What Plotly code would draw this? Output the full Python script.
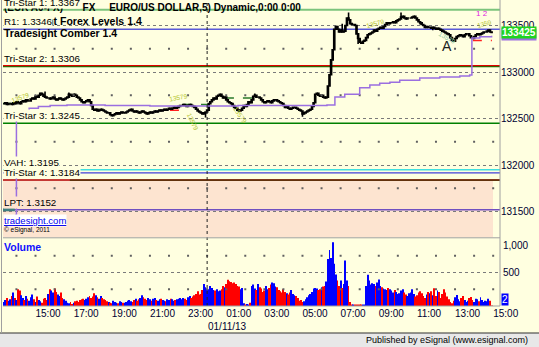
import pandas as pd
import plotly.graph_objects as go

W, H = 539, 347

# ---------------- data ----------------
bar_start = "2013-01-10 13:20"          # 5-minute bars
close_pips = [                           # close = 1.3 + pips/10000
    266, 267, 265, 266,
    266, 265, 267, 266, 268, 267, 266, 268, 269, 268, 270, 269,
    269, 271, 272, 271, 274, 273, 275, 277, 276, 274, 273, 272,
    272, 271, 272, 273, 271, 270, 271, 272, 271, 270, 271, 272,
    273, 276, 275, 274, 276, 275, 273, 272, 270, 268, 267, 268,
    269, 270, 268, 264, 260, 259, 260, 258, 259, 260, 259, 258,
    257, 256, 256, 254, 253, 254, 255, 256, 255, 256, 257, 256,
    256, 257, 258, 259, 260, 258, 257, 258, 257, 256, 257, 258,
    257, 256, 255, 256, 257, 256, 257, 258, 257, 258, 259, 258,
    259, 260, 259, 260, 261, 260, 261, 262, 261, 262, 263, 264,
    264, 265, 264, 263, 264, 265, 264, 263, 262, 260, 258, 257,
    256, 255, 256, 257, 259, 266, 268, 270, 272, 271, 274, 275,
    276, 274, 272, 273, 270, 268, 267, 266, 264, 262, 261, 259,
    258, 259, 261, 264, 263, 265, 268, 267, 270, 274, 275, 273,
    273, 272, 270, 268, 267, 268, 269, 268, 267, 269, 270, 270,
    269, 268, 267, 266, 264, 262, 263, 261, 260, 261, 262, 262,
    261, 260, 259, 258, 255, 256, 257, 258, 259, 260, 263, 267,
    276, 277, 275, 274, 275, 273, 272, 273, 285, 297, 313, 324,
    346, 349, 346, 343, 345, 343, 344, 350, 358, 356, 352, 351,
    351, 350, 341, 336, 332, 331, 333, 334, 337, 340, 341, 342,
    343, 345, 344, 346, 347, 348, 347, 349, 351, 353, 352, 353,
    353, 354, 353, 355, 356, 357, 359, 360, 358, 357, 358, 358,
    358, 359, 360, 358, 356, 354, 353, 351, 350, 348, 349, 348,
    348, 347, 348, 347, 346, 347, 346, 345, 344, 343, 342, 341,
    340, 337, 334, 333, 336, 338, 339, 340, 339, 338, 340, 341,
    341, 339, 337, 336, 338, 340, 341, 340, 341, 342, 343, 343,
    344, 345, 343, 342.5,
]
first_open_pips = 266
wick_high_pips = {217: 364, 250: 364, 158: 277, 26: 279, 41: 278, 213: 352}
wick_low_pips = {188: 252, 127: 251, 223: 330, 270: 345, 262: 351}

volume = [
    60, 90, 120, 80,
    100, 150, 200, 120, 90, 250, 230, 160, 120, 90, 150, 110,
    80, 130, 170, 100, 60, 140, 90, 70, 50, 110, 120, 90,
    180, 250, 230, 200, 260, 210, 170, 150, 200, 120, 100, 80,
    50, 40, 60, 30, 50, 70, 80, 60, 90, 100, 110, 90,
    110, 130, 150, 120, 140, 190, 160, 130, 110, 150, 120, 100,
    90, 70, 60, 50, 40, 80, 60, 50, 40, 70, 60, 50,
    50, 60, 80, 90, 70, 60, 90, 110, 80, 100, 120, 160,
    130, 110, 90, 120, 100, 80, 110, 120, 90, 80, 100, 110,
    90, 80, 70, 100, 90, 110, 100, 80, 90, 100, 110, 120,
    100, 120, 110, 90, 130, 150, 120, 140, 160, 180, 220, 170,
    180, 240, 330, 280, 260, 250, 300, 270, 240, 230, 250, 220,
    230, 250, 300, 280, 330, 390, 370, 360, 340, 350, 330, 300,
    290, 250, 270, 40, 20, 30, 20, 50, 300, 320, 260, 240,
    330, 280, 260, 210, 230, 300, 250, 270, 320, 350, 340, 290,
    280, 240, 220, 200, 250, 210, 190, 170, 200, 240, 180, 160,
    150, 120, 80, 90, 60, 70, 100, 130, 160, 180, 210, 260,
    270, 260, 240, 250, 280, 290, 300, 365, 700, 835, 715, 950,
    630, 470, 380, 300, 380, 270, 330, 680, 380, 300, 60, 20,
    15, 10, 15, 10, 20, 15, 10, 20, 300, 465, 380, 320,
    340, 330, 300, 350, 395, 300, 280, 260, 250, 240, 270, 250,
    230, 200, 240, 210, 180, 190, 230, 250, 200, 170, 150, 190,
    200, 250, 180, 140, 160, 200, 220, 190, 150, 120, 170, 210,
    190, 220, 160, 265, 150, 230, 210, 120, 180, 250, 200, 140,
    100, 60, 40, 80, 130, 165, 100, 70, 120, 150, 90, 60,
    80, 120, 135, 90, 60, 110, 100, 70, 130, 90, 60, 80,
    70, 110, 80, 2,
]

purple_times = ["2013-01-10 13:55", "2013-01-10 14:00", "2013-01-10 14:11", "2013-01-10 14:40",
                "2013-01-10 15:09", "2013-01-10 15:46", "2013-01-10 16:39", "2013-01-10 18:01",
                "2013-01-10 18:39", "2013-01-10 21:00", "2013-01-10 23:37", "2013-01-11 01:37",
                "2013-01-11 03:49", "2013-01-11 06:17", "2013-01-11 06:42", "2013-01-11 07:13",
                "2013-01-11 08:00", "2013-01-11 08:32", "2013-01-11 09:03", "2013-01-11 09:35",
                "2013-01-11 10:06", "2013-01-11 11:09", "2013-01-11 12:12", "2013-01-11 13:15",
                "2013-01-11 13:46", "2013-01-11 13:53", "2013-01-11 14:18", "2013-01-11 14:55"]
purple_pips = [146, 257, 258, 261, 263, 264, 264.5, 264.5, 264, 263.5, 263.5, 264, 264, 264.5,
               273, 276, 283, 286, 288, 289, 291, 293.5, 294.6, 295.7, 296.8, 336.6, 338, 339]

level_names = ["Tri-Star 1", "R1", "Tri-Star 2", "Tri-Star 3", "VAH", "Tri-Star 4", "LPT"]
level_prices = [1.3367, 1.3346, 1.3306, 1.3245, 1.3195, 1.3184, 1.3152]
level_colors = ["#7cc47c", "#5a5ad8", "#008000", "#008000", "#3fe0e0", "#b00000", "#7050c0"]
extra_lines = [  # (price, colour, start, end)
    (1.33068, "#e00000", None, None),
    (1.31915, "#4040d8", None, None),
    (1.31838, "#403000", "2013-01-10 16:48", None),
    (1.3152, "#3f7f80", None, "2013-01-10 13:55"),
]
dash_segments = [  # (start, end, price, colour)
    ("2013-01-10 13:15", "2013-01-10 13:49", 1.3266, "#2a7a2a"),
    ("2013-01-10 22:03", "2013-01-10 22:59", 1.3259, "#ff2020"),
    ("2013-01-10 22:44", "2013-01-11 00:09", 1.3265, "#2a7a2a"),
    ("2013-01-11 00:56", "2013-01-11 02:21", 1.3272, "#2a7a2a"),
    ("2013-01-11 13:56", "2013-01-11 14:56", 1.3334, "#ff2020"),
]
comber_labels = [  # (time, price, text, angle, colour)
    ("2013-01-10 14:11", 1.3273, "13579", -20, "#b4c42c"),
    ("2013-01-10 22:28", 1.3273, "13579", -10, "#b4c42c"),
    ("2013-01-10 23:15", 1.3247, "13579", 65, "#b4c42c"),
    ("2013-01-11 01:43", 1.3254, "13579", 55, "#b4c42c"),
    ("2013-01-11 08:48", 1.3352, "13579", -15, "#b4c42c"),
    ("2013-01-11 12:35", 1.3337, "13579", 30, "#8cc8a0"),
    ("2013-01-11 14:34", 1.3352, "1359", -15, "#b4c42c"),
]

price_ticks = [1.315, 1.320, 1.325, 1.330, 1.335]
price_tick_text = ["131500", "132000", "132500", "133000", "133500"]
time_ticks = pd.date_range("2013-01-10 15:00", "2013-01-11 15:00", freq="2h")
time_tick_text = [t.strftime("%H:%M") for t in time_ticks]
last_price_text = "133425"
last_purple_text = "133400"
last_volume_text = "2"

# ---------------- derived ----------------
closes = [1.3 + c / 10000 for c in close_pips]
opens = [1.3 + first_open_pips / 10000] + closes[:-1]
highs = [max(o, c) for o, c in zip(opens, closes)]
lows = [min(o, c) for o, c in zip(opens, closes)]
for i, v in wick_high_pips.items():
    highs[i] = max(highs[i], 1.3 + v / 10000)
for i, v in wick_low_pips.items():
    lows[i] = min(lows[i], 1.3 + v / 10000)
times = pd.date_range(bar_start, periods=len(closes), freq="5min")
vol_colors = ["#0000ff" if c >= o else "#ff0000" for o, c in zip(opens, closes)]
purple = [1.3 + p / 10000 for p in purple_pips]

# ---------------- geometry ----------------
def pxx(p): return p / W
def pxy(p): return 1 - p / H
PLOT_L, PLOT_R = 3, 500
PRICE_TOP, PRICE_BOT = 3, 237.5
VOL_TOP, VOL_BOT = 238.5, 306
ppx = 0.005 / 46.5
y_range = [1.33 - (PRICE_BOT - 72) * ppx, 1.33 + (72 - PRICE_TOP) * ppx]
v_range = [0, (VOL_BOT - VOL_TOP) * 1000 / 67]
t15 = pd.Timestamp("2013-01-10 15:00")
def t_at(x): return t15 + pd.Timedelta(hours=(x - 35.5) / 19.07)
x_range = [t_at(PLOT_L), t_at(PLOT_R)]

BG = "#ffffe0"
PEACH = "#fde4d0"
FONT = "Liberation Sans, Arial, sans-serif"
NAVY = "#000033"

fig = go.Figure()

# grid dots (hourly, at half steps)
hours = pd.date_range("2013-01-10 14:00", "2013-01-11 15:00", freq="1h")
for lv in [1.3175, 1.3225, 1.3275, 1.3325]:
    fig.add_trace(go.Scatter(x=hours, y=[lv] * len(hours), mode="markers",
                             marker=dict(size=2, color="#606060", symbol="square"),
                             hoverinfo="skip", showlegend=False, xaxis="x", yaxis="y"))
for lv in [250, 750]:
    fig.add_trace(go.Scatter(x=hours, y=[lv] * len(hours), mode="markers",
                             marker=dict(size=2, color="#606060", symbol="square"),
                             hoverinfo="skip", showlegend=False, xaxis="x2", yaxis="y2"))

fig.add_trace(go.Scatter(x=purple_times, y=purple, mode="lines",
                         line=dict(color="#9b6fe0", width=1.5, shape="hv"),
                         hoverinfo="skip", showlegend=False, xaxis="x", yaxis="y"))

fig.add_trace(go.Candlestick(
    x=times, open=opens, high=highs, low=lows, close=closes,
    increasing=dict(line=dict(color="black", width=1.6), fillcolor="#00d000"),
    decreasing=dict(line=dict(color="black", width=1.6), fillcolor="#ff0000"),
    whiskerwidth=0, hoverinfo="skip", showlegend=False, xaxis="x", yaxis="y"))

fig.add_trace(go.Bar(x=times, y=volume, marker=dict(color=vol_colors, line=dict(width=0)),
                     hoverinfo="skip", showlegend=False, xaxis="x2", yaxis="y2"))

shapes = []
# bottom band
shapes.append(dict(type="rect", xref="paper", yref="paper", x0=0, x1=1, y0=0, y1=pxy(333),
                   fillcolor="#e8e8e8", line=dict(width=0), layer="below"))
shapes.append(dict(type="line", xref="paper", yref="paper", x0=0, x1=1, y0=pxy(333), y1=pxy(333),
                   line=dict(color="#303030", width=1.2)))
# peach zone under Tri-Star 4
shapes.append(dict(type="rect", xref="paper", yref="y", x0=pxx(PLOT_L), x1=pxx(493),
                   y0=y_range[0], y1=level_prices[5], fillcolor=PEACH, line=dict(width=0), layer="below"))
# level lines
widths = [2, 1.5, 1.5, 1.5, 1.5, 1.5, 1.5]
for p, c, w in zip(level_prices, level_colors, widths):
    shapes.append(dict(type="line", xref="paper", yref="y", x0=pxx(PLOT_L), x1=pxx(PLOT_R),
                       y0=p, y1=p, line=dict(color=c, width=w), layer="below"))
for p, c, s, e in extra_lines:
    x0 = s if s else x_range[0]
    x1 = e if e else x_range[1]
    shapes.append(dict(type="line", xref="x", yref="y", x0=x0, x1=x1, y0=p, y1=p,
                       line=dict(color=c, width=3 if e else 1.3), layer="below"))
for s, e, p, c in dash_segments:
    shapes.append(dict(type="line", xref="x", yref="y", x0=s, x1=e, y0=p, y1=p,
                       line=dict(color=c, width=1.5, dash="dash"), layer="below"))
# day separator
shapes.append(dict(type="line", xref="x", yref="paper", x0="2013-01-11 00:00", x1="2013-01-11 00:00",
                   y0=pxy(VOL_BOT), y1=pxy(PRICE_TOP), line=dict(color="#202020", width=1, dash="dot")))
# borders
for (x0, y0, x1, y1) in [(PLOT_R, 0, PLOT_R, VOL_BOT), (1.5, 0, 1.5, 333),
                         (PLOT_L, 237.8, PLOT_R, 237.8), (PLOT_L, VOL_BOT, PLOT_R, VOL_BOT)]:
    shapes.append(dict(type="line", xref="paper", yref="paper", x0=pxx(x0), x1=pxx(x1),
                       y0=pxy(y0), y1=pxy(y1), line=dict(color="#a0a0a0", width=1)))

ann = []
def text_ann(x, y, text, size=10, color="black", bold=False, bg=None, xanchor="left",
             yanchor="middle", xref="paper", yref="paper", **kw):
    d = dict(x=x, y=y, xref=xref, yref=yref, text=f"<b>{text}</b>" if bold else text,
             showarrow=False, xanchor=xanchor, yanchor=yanchor,
             font=dict(family=FONT, size=size, color=color), borderpad=0)
    if bg:
        d["bgcolor"] = bg
    d.update(kw)
    ann.append(d)

nb = "\u00a0"
text_ann(pxx(3), pxy(8), f"(EUR A0-FX){nb*7}FX{nb*5}EURO/US DOLLAR,5) Dynamic,0:00 0:00", size=10, bold=True)
text_ann(pxx(3), pxy(21), "Tradesight Forex Levels 1.4", size=10.5, bold=True)
text_ann(pxx(3), pxy(33), "Tradesight Comber 1.4", size=10.5, bold=True)

for n, p in zip(level_names, level_prices):
    bg = PEACH if p < level_prices[5] else BG
    text_ann(pxx(3), p, f"{n}: {p:.4f}", size=9.8, bg=bg, yref="y", yanchor="bottom", yshift=1)

text_ann(pxx(3), pxy(220.5), "<u>tradesight.com</u>", size=9.5, color="#0000ee", bg="white")
text_ann(pxx(3), pxy(230), "© eSignal, 2011", size=6.5)

# right axis boxes
text_ann(pxx(501), 1.3340, f"<b>{last_purple_text}</b>", size=10, color="white", bg="#9b6fe0", yref="y")
text_ann(pxx(501), float(closes[-1]), f"<b>{last_price_text}</b>", size=10, color="white",
         bg="#1ed41e", yref="y")
text_ann(pxx(502), 1000, "1,000", size=10, color=NAVY, yref="y2", yanchor="top")
text_ann(pxx(502), 500, "500", size=10, color=NAVY, yref="y2")
text_ann(pxx(501), 0, last_volume_text, size=10, color="white", bg="#0000ff", yref="y2",
         yanchor="bottom")
text_ann(pxx(3), pxy(246.5), "Volume", size=10.5, color="#1010ff", bold=True)

text_ann("2013-01-11 00:00", pxy(326), "01/11/13", size=10, color=NAVY, xref="x")
text_ann(pxx(529), pxy(340), "Published by eSignal (www.esignal.com)", size=9, xanchor="right")

for t, p, s, a, c in comber_labels:
    text_ann(t, p, s, size=6.5, color=c, xref="x", yref="y", xanchor="center", textangle=a)
text_ann("2013-01-11 14:25", 1.3363, "1 2", size=8, color="#e020e0", xref="x", yref="y",
         xanchor="center")
text_ann("2013-01-11 12:35", 1.3328, "A", size=14, color="#202020", xref="x", yref="y",
         xanchor="center")

fig.update_layout(
    width=W, height=H, margin=dict(l=0, r=0, t=0, b=0),
    paper_bgcolor=BG, plot_bgcolor=BG, showlegend=False,
    bargap=0.45, boxgap=0.05, shapes=shapes, annotations=ann,
    xaxis=dict(domain=[pxx(PLOT_L), pxx(PLOT_R)], range=x_range, type="date", anchor="y",
               showticklabels=False, showgrid=False, zeroline=False, showline=False,
               rangeslider=dict(visible=False), fixedrange=True),
    xaxis2=dict(domain=[pxx(PLOT_L), pxx(PLOT_R)], range=x_range, type="date", anchor="y2",
                matches="x", tickvals=time_ticks, ticktext=time_tick_text,
                ticklabelposition="outside right", ticks="", showgrid=False, zeroline=False,
                showline=False, automargin=False,
                tickfont=dict(family=FONT, size=10, color=NAVY)),
    yaxis=dict(domain=[pxy(PRICE_BOT), pxy(PRICE_TOP)], range=y_range, side="right", anchor="x",
               tickvals=price_ticks, ticktext=price_tick_text, ticks="",
               showgrid=True, gridcolor="#7a7a7a", griddash="dot", gridwidth=1,
               zeroline=False, showline=False, automargin=False,
               tickfont=dict(family=FONT, size=10, color=NAVY)),
    yaxis2=dict(domain=[pxy(VOL_BOT), pxy(VOL_TOP)], range=v_range, side="right", anchor="x2",
                tickvals=[500, 1000], showticklabels=False, ticks="",
                showgrid=True, gridcolor="#7a7a7a", griddash="dot", gridwidth=1,
                zeroline=False, showline=False, automargin=False),
)

fig.write_html("out.html")
